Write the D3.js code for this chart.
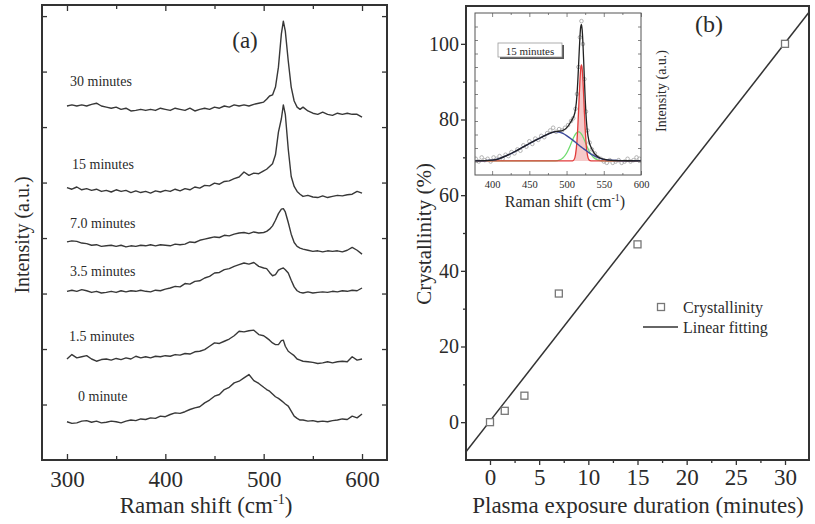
<!DOCTYPE html>
<html><head><meta charset="utf-8">
<script src="https://cdn.jsdelivr.net/npm/d3@7"></script>
<style>
body{margin:0;background:#fff;}
svg{display:block;}
text{font-family:"Liberation Serif","Times New Roman",serif;fill:#2b2b2b;}
</style>
</head><body>
<svg id="c" width="815" height="524"></svg>
<script>
// ---------------- Panel (a) data ----------------
const ramanShift = [300,305,310,315,320,325,330,335,340,345,350,355,360,365,370,375,380,385,390,395,400,405,410,415,420,425,430,435,440,445,450,455,460,465,470,475,480,485,490,495,500,
  503,506,509,512,515,518,520,522,525,528,531,534,537,540,
  545,550,555,560,565,570,575,580,585,590,595,600];
const ramanTicks = [300,400,500,600];
const ramanMinorTicks = [350,450,550];
const seriesLabels = ["0 minute","1.5 minutes","3.5 minutes","7.0 minutes","15 minutes","30 minutes"];

const spec0 = [0.69,0.66,0.67,0.70,0.71,0.68,0.70,0.67,0.68,0.70,0.69,0.67,0.70,0.72,0.71,0.74,0.73,0.76,0.75,0.79,0.78,0.82,0.85,0.84,0.87,0.91,0.94,0.96,1.03,1.08,1.15,1.18,1.27,1.31,1.39,1.42,1.48,1.54,1.43,1.38,1.31,
  1.27,1.24,1.19,1.14,1.11,1.07,1.04,1.01,0.97,0.88,0.79,0.75,0.72,0.72,
  0.70,0.71,0.69,0.70,0.69,0.71,0.72,0.74,0.73,0.79,0.76,0.83];
const spec1_5 = [1.82,1.90,1.84,1.86,1.88,1.82,1.78,1.81,1.82,1.80,1.83,1.81,1.84,1.82,1.87,1.84,1.86,1.84,1.87,1.86,1.88,1.87,1.90,1.89,1.92,1.91,1.95,1.96,1.99,2.05,2.11,2.10,2.14,2.18,2.24,2.32,2.31,2.33,2.34,2.26,2.24,
  2.20,2.16,2.11,2.08,2.08,2.15,2.16,2.05,1.96,1.92,1.88,1.82,1.80,1.78,
  1.77,1.76,1.74,1.75,1.77,1.75,1.77,1.78,1.77,1.86,1.80,1.82];
const spec3_5 = [3.04,3.06,3.04,3.07,3.05,3.02,3.04,3.01,3.02,3.04,3.02,3.05,3.03,3.05,3.04,3.06,3.04,3.03,3.06,3.05,3.08,3.10,3.13,3.12,3.18,3.17,3.22,3.23,3.28,3.31,3.37,3.38,3.43,3.45,3.49,3.52,3.55,3.53,3.56,3.49,3.46,
  3.45,3.38,3.32,3.34,3.42,3.45,3.46,3.43,3.37,3.24,3.12,3.05,3.02,3.01,
  3.03,3.01,3.02,3.03,3.02,3.04,3.03,3.05,3.04,3.06,3.05,3.10];
const spec7 = [3.93,3.95,3.94,3.91,3.90,3.87,3.88,3.85,3.86,3.87,3.85,3.87,3.84,3.86,3.85,3.87,3.86,3.88,3.86,3.88,3.87,3.86,3.89,3.88,3.89,3.93,3.92,3.96,3.98,4.00,4.02,4.01,4.05,4.04,4.07,4.09,4.10,4.08,4.11,4.09,4.10,
  4.12,4.16,4.22,4.32,4.44,4.52,4.53,4.47,4.28,4.07,3.92,3.85,3.82,3.80,
  3.78,3.76,3.77,3.75,3.77,3.76,3.77,3.75,3.78,3.83,3.78,3.71];
const spec15 = [4.91,4.88,4.92,4.87,4.89,4.86,4.88,4.84,4.86,4.83,4.87,4.84,4.86,4.82,4.85,4.82,4.84,4.81,4.85,4.83,4.86,4.84,4.88,4.85,4.89,4.87,4.92,4.90,4.95,4.94,4.99,4.97,5.02,5.03,5.07,5.10,5.19,5.13,5.17,5.16,5.21,
  5.24,5.29,5.34,5.50,5.91,6.15,6.40,6.23,5.60,5.11,4.93,4.84,4.79,4.75,
  4.77,4.74,4.73,4.76,4.73,4.75,4.77,4.76,4.78,4.79,4.84,4.81];
const spec30 = [6.38,6.40,6.38,6.40,6.38,6.41,6.43,6.38,6.36,6.34,6.36,6.32,6.34,6.29,6.30,6.32,6.30,6.32,6.30,6.34,6.32,6.30,6.34,6.32,6.30,6.34,6.29,6.32,6.34,6.32,6.36,6.34,6.38,6.36,6.40,6.38,6.40,6.38,6.41,6.43,6.45,
  6.50,6.56,6.58,6.72,7.08,7.68,7.91,7.73,7.19,6.72,6.47,6.36,6.32,6.36,
  6.29,6.25,6.23,6.27,6.23,6.21,6.25,6.23,6.25,6.23,6.23,6.18];

// ---------------- Panel (b) data ----------------
const duration = [0, 1.5, 3.5, 7, 15, 30];
const crystallinity = [0, 3, 7, 34, 47, 100];
const fitIntercept = 0.3, fitSlope = 3.33;
const durationTicks = [0,5,10,15,20,25,30];
const durationMinor = [2.5,7.5,12.5,17.5,22.5,27.5];
const crystTicks = [0,20,40,60,80,100];
const crystMinor = [10,30,50,70,90];

// ---------------- Inset data (15 minutes) ----------------
const insetShift = [378,382,386,390,394,398,402,406,410,414,418,422,426,430,434,438,442,446,450,454,458,462,466,470,474,478,482,486,490,494,498,502,506,509,512,514,516,518,520,522,524,526,528,531,534,538,542,546,550,554,558,562,566,570,574,578,582,586,590,594,598];
const insetIntensity = [0.12,0.10,0.13,0.11,0.12,0.10,0.13,0.12,0.14,0.12,0.15,0.14,0.17,0.16,0.19,0.18,0.22,0.21,0.25,0.23,0.27,0.26,0.29,0.28,0.31,0.33,0.35,0.32,0.34,0.33,0.35,0.37,0.40,0.42,0.49,0.60,0.80,1.02,1.14,0.97,0.71,0.47,0.33,0.24,0.19,0.16,0.13,0.12,0.10,0.09,0.11,0.09,0.10,0.11,0.09,0.10,0.12,0.10,0.11,0.13,0.12];
const fitShift = [377,390,400,410,420,430,440,450,460,470,480,485,490,495,500,505,508,510,512,514,515,516,517,518,519,520,521,522,523,524,525,526,527,528,530,533,536,540,545,550,560,575,600];
const fitBroad = [0.105,0.106,0.110,0.122,0.145,0.172,0.202,0.233,0.262,0.290,0.314,0.321,0.318,0.308,0.292,0.272,0.260,0.251,0.242,0.233,0.228,0.224,0.219,0.215,0.210,0.206,0.202,0.198,0.194,0.190,0.186,0.182,0.178,0.174,0.166,0.155,0.145,0.134,0.123,0.116,0.109,0.106,0.105];
const fitMid = [0.104,0.104,0.104,0.104,0.104,0.104,0.104,0.104,0.104,0.104,0.104,0.105,0.110,0.126,0.161,0.219,0.259,0.283,0.303,0.315,0.319,0.320,0.319,0.315,0.310,0.303,0.294,0.283,0.271,0.259,0.246,0.232,0.219,0.206,0.182,0.152,0.131,0.115,0.107,0.105,0.104,0.104,0.104];
const fitNarrow = [0.104,0.104,0.104,0.104,0.104,0.104,0.104,0.104,0.104,0.104,0.104,0.104,0.104,0.104,0.104,0.104,0.105,0.113,0.149,0.253,0.345,0.460,0.585,0.702,0.785,0.815,0.785,0.702,0.585,0.460,0.345,0.253,0.189,0.149,0.113,0.104,0.104,0.104,0.104,0.104,0.104,0.104,0.104];
const fitTotal = [0.105,0.106,0.110,0.122,0.145,0.172,0.202,0.233,0.262,0.290,0.314,0.322,0.324,0.330,0.349,0.387,0.416,0.439,0.486,0.593,0.684,0.796,0.915,1.024,1.097,1.116,1.073,0.975,0.842,0.701,0.569,0.459,0.378,0.321,0.253,0.203,0.172,0.145,0.126,0.117,0.109,0.106,0.105];
const insetTicks = [400,450,500,550,600];
const insetMinor = [425,475,525,575];
const insetYTicks = [0.1,0.2,0.3,0.4,0.5,0.6,0.7,0.8,0.9,1.0,1.1];

// ================= drawing =================
const svg = d3.select("#c");
const INK = "#333";

function styleAxis(g, keepText){
  g.select(".domain").remove();
  g.selectAll(".tick line").attr("stroke", INK).attr("stroke-width", 1.3);
  if(!keepText) g.selectAll(".tick text").remove();
  g.selectAll(".tick text").attr("fill","#2b2b2b").style("font-family",'"Liberation Serif",serif');
}

// ----- Panel (a) -----
const xA = d3.scaleLinear().domain([274.6, 625.4]).range([42, 387]);
const yA = d3.scaleLinear().domain([0, 8.2]).range([460, 5]);
const gA = svg.append("g");

const specs = [spec0, spec1_5, spec3_5, spec7, spec15, spec30];
const lineA = d3.line().x((d,i)=>xA(ramanShift[i])).y(d=>yA(d));
specs.forEach(s=>{
  gA.append("path").attr("d", lineA(s)).attr("fill","none")
    .attr("stroke","#383838").attr("stroke-width",1.4).attr("stroke-linejoin","round");
});
const labelLayout = [[78,25],[69,23],[70,20],[70,18],[72,23],[70,24]];
specs.forEach((s,i)=>{
  gA.append("text").attr("x", labelLayout[i][0]).attr("y", yA(s[0]) - labelLayout[i][1])
    .attr("dominant-baseline","central").style("font-size","14px").text(seriesLabels[i]);
});

let ax;
ax = gA.append("g").attr("transform","translate(0,460)")
  .call(d3.axisBottom(xA).tickValues(ramanTicks).tickSize(-6).tickPadding(11).tickFormat(d3.format("d")));
styleAxis(ax, true); ax.selectAll("text").style("font-size","23px");
ax = gA.append("g").attr("transform","translate(0,460)")
  .call(d3.axisBottom(xA).tickValues(ramanMinorTicks).tickSize(-4)); styleAxis(ax,false);
ax = gA.append("g").attr("transform","translate(0,5)")
  .call(d3.axisTop(xA).tickValues(ramanTicks).tickSize(-6)); styleAxis(ax,false);
ax = gA.append("g").attr("transform","translate(0,5)")
  .call(d3.axisTop(xA).tickValues(ramanMinorTicks).tickSize(-4)); styleAxis(ax,false);
ax = gA.append("g").attr("transform","translate(42,0)")
  .call(d3.axisLeft(yA).tickValues(d3.range(1,9)).tickSize(-5)); styleAxis(ax,false);
ax = gA.append("g").attr("transform","translate(387,0)")
  .call(d3.axisRight(yA).tickValues(d3.range(1,9)).tickSize(-5)); styleAxis(ax,false);
gA.append("rect").attr("x",42).attr("y",5).attr("width",345).attr("height",455)
  .attr("fill","none").attr("stroke",INK).attr("stroke-width",2);

gA.append("text").attr("x",245).attr("y",48).attr("text-anchor","middle").style("font-size","23px").text("(a)");
const xlA = gA.append("text").attr("x",206).attr("y",513).attr("text-anchor","middle").style("font-size","23px");
xlA.append("tspan").text("Raman shift (cm");
xlA.append("tspan").attr("dy",-9).style("font-size","14px").text("-1");
xlA.append("tspan").attr("dy",9).text(")");
gA.append("text").attr("transform","translate(29,235) rotate(-90)").attr("text-anchor","middle")
  .style("font-size","20px").text("Intensity (a.u.)");

// ----- Panel (b) -----
const xB = d3.scaleLinear().domain([-2.44, 32.44]).range([466, 809]);
const yB = d3.scaleLinear().domain([-10, 110]).range([460, 6]);
const gB = svg.append("g");
gB.append("clipPath").attr("id","clipB").append("rect").attr("x",466).attr("y",6).attr("width",343).attr("height",454);

const fitX = xB.domain();
gB.append("path").attr("clip-path","url(#clipB)")
  .attr("d", d3.line().x(d=>xB(d)).y(d=>yB(fitIntercept + fitSlope*d))(fitX))
  .attr("stroke","#333").attr("stroke-width",1.5).attr("fill","none");

gB.selectAll("rect.pt").data(duration).enter().append("rect").attr("class","pt")
  .attr("x",(d)=>xB(d)-3.5).attr("y",(d,i)=>yB(crystallinity[i])-3.5)
  .attr("width",7).attr("height",7).attr("fill","#fff").attr("stroke","#777").attr("stroke-width",1.3);

ax = gB.append("g").attr("transform","translate(0,460)")
  .call(d3.axisBottom(xB).tickValues(durationTicks).tickSize(5).tickPadding(4));
styleAxis(ax,true); ax.selectAll("text").style("font-size","23px");
ax = gB.append("g").attr("transform","translate(0,460)")
  .call(d3.axisBottom(xB).tickValues(durationMinor).tickSize(3)); styleAxis(ax,false);
ax = gB.append("g").attr("transform","translate(466,0)")
  .call(d3.axisLeft(yB).tickValues(crystTicks).tickSize(5).tickPadding(2));
styleAxis(ax,true); ax.selectAll("text").style("font-size","20px");
ax = gB.append("g").attr("transform","translate(466,0)")
  .call(d3.axisLeft(yB).tickValues(crystMinor).tickSize(3)); styleAxis(ax,false);
gB.append("rect").attr("x",466).attr("y",6).attr("width",343).attr("height",454)
  .attr("fill","none").attr("stroke",INK).attr("stroke-width",2);

gB.append("text").attr("x",709).attr("y",32).attr("text-anchor","middle").style("font-size","24px").text("(b)");
gB.append("text").attr("x",638).attr("y",513).attr("text-anchor","middle").style("font-size","23px")
  .text("Plasma exposure duration (minutes)");
gB.append("text").attr("transform","translate(431,234) rotate(-90)").attr("text-anchor","middle")
  .style("font-size","21px").text("Crystallinity (%)");

// legend
gB.append("rect").attr("x",661-3.5).attr("y",307-3.5).attr("width",7).attr("height",7)
  .attr("fill","#fff").attr("stroke","#777").attr("stroke-width",1.3);
gB.append("text").attr("x",683).attr("y",307).attr("dominant-baseline","central").style("font-size","16px").text("Crystallinity");
gB.append("line").attr("x1",643).attr("x2",678).attr("y1",327).attr("y2",327).attr("stroke","#333").attr("stroke-width",1.5);
gB.append("text").attr("x",683).attr("y",327).attr("dominant-baseline","central").style("font-size","16px").text("Linear fitting");

// ----- Inset -----
const xI = d3.scaleLinear().domain([377, 600]).range([475, 641]);
const yI = d3.scaleLinear().domain([0, 1.2]).range([175, 13]);
const gI = svg.append("g");
gI.append("rect").attr("x",475).attr("y",13).attr("width",166).attr("height",162).attr("fill","#fff");
gI.append("clipPath").attr("id","clipI").append("rect").attr("x",475).attr("y",13).attr("width",166).attr("height",162);
const gIc = gI.append("g").attr("clip-path","url(#clipI)");

gIc.selectAll("circle").data(insetIntensity).enter().append("circle")
  .attr("cx",(d,i)=>xI(insetShift[i])).attr("cy",d=>yI(d)).attr("r",1.8)
  .attr("fill","none").attr("stroke","#aaa").attr("stroke-width",0.9);
const lineI = d3.line().x((d,i)=>xI(fitShift[i])).y(d=>yI(d)).curve(d3.curveMonotoneX);
gIc.append("path").attr("d", d3.area().x((d,i)=>xI(fitShift[i])).y0(yI(0.104)).y1(d=>yI(d)).curve(d3.curveMonotoneX)(fitNarrow))
  .attr("fill","#f2b3b3").attr("opacity",0.7);
gIc.append("path").attr("d", lineI(fitMid)).attr("fill","none").attr("stroke","#6fdc6f").attr("stroke-width",1.3);
gIc.append("path").attr("d", lineI(fitNarrow)).attr("fill","none").attr("stroke","#e23b3b").attr("stroke-width",1.3);
gIc.append("path").attr("d", lineI(fitBroad)).attr("fill","none").attr("stroke","#3d4a9c").attr("stroke-width",1.4);
gIc.append("path").attr("d", lineI(fitTotal)).attr("fill","none").attr("stroke","#222").attr("stroke-width",1.3);

ax = gI.append("g").attr("transform","translate(0,175)")
  .call(d3.axisBottom(xI).tickValues(insetTicks).tickSize(-4).tickPadding(6).tickFormat(d3.format("d")));
styleAxis(ax,true); ax.selectAll("text").style("font-size","10.5px").attr("fill","#555");
ax.selectAll(".tick line").attr("stroke","#666").attr("stroke-width",0.8);
[[d3.axisBottom, 175, insetMinor, -2],[d3.axisTop, 13, insetTicks, -4],[d3.axisTop, 13, insetMinor, -2]].forEach(([f,y,tv,sz])=>{
  const a = gI.append("g").attr("transform",`translate(0,${y})`).call(f(xI).tickValues(tv).tickSize(sz));
  styleAxis(a,false); a.selectAll(".tick line").attr("stroke","#666").attr("stroke-width",0.8);
});
[[d3.axisLeft,475],[d3.axisRight,641]].forEach(([f,x])=>{
  const a = gI.append("g").attr("transform",`translate(${x},0)`).call(f(yI).tickValues(insetYTicks).tickSize(-3));
  styleAxis(a,false); a.selectAll(".tick line").attr("stroke","#666").attr("stroke-width",0.8);
});
gI.append("rect").attr("x",475).attr("y",13).attr("width",166).attr("height",162)
  .attr("fill","none").attr("stroke","#555").attr("stroke-width",1);

// "15 minutes" tag
gI.append("rect").attr("x",500).attr("y",45).attr("width",64).attr("height",14).attr("fill","#555");
gI.append("rect").attr("x",498).attr("y",43).attr("width",64).attr("height",14).attr("fill","#fff").attr("stroke","#999").attr("stroke-width",0.8);
gI.append("text").attr("x",530).attr("y",50.5).attr("text-anchor","middle").attr("dominant-baseline","central")
  .style("font-size","11px").text("15 minutes");

const xlI = gI.append("text").attr("x",565).attr("y",207).attr("text-anchor","middle").style("font-size","16px");
xlI.append("tspan").text("Raman shift (cm");
xlI.append("tspan").attr("dy",-6).style("font-size","10px").text("-1");
xlI.append("tspan").attr("dy",6).text(")");
gI.append("text").attr("transform","translate(666,91) rotate(-90)").attr("text-anchor","middle")
  .style("font-size","14px").text("Intensity (a.u.)");
</script>
</body></html>
